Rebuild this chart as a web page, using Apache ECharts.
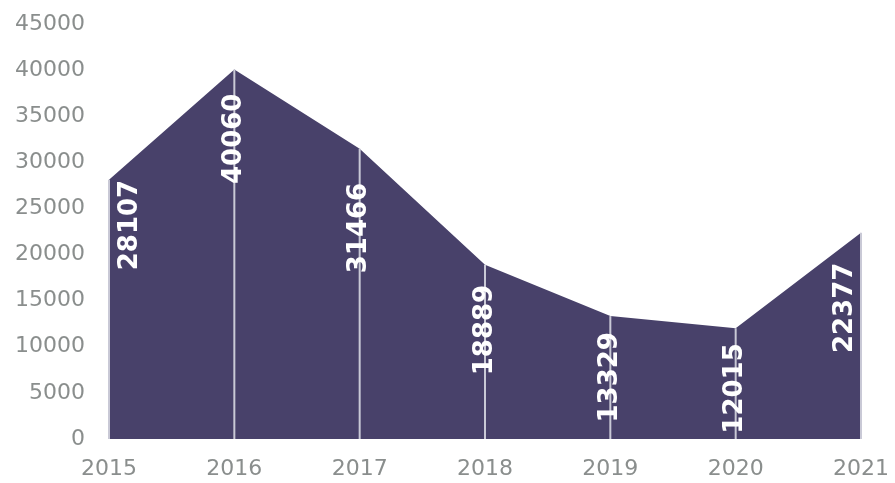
<!DOCTYPE html>
<html><head><meta charset="utf-8">
<script src="https://cdn.jsdelivr.net/npm/echarts@6/dist/echarts.min.js"></script>
<style>html,body{margin:0;padding:0;background:#fff}#c{width:895px;height:483px}</style>
</head><body><div id="c"></div>
<script>
var years = ['2015','2016','2017','2018','2019','2020','2021'];
var values = [28107, 40060, 31466, 18889, 13329, 12015, 22377];
var yTicks = {min: 0, max: 45000, interval: 5000};

// label tweaks (style only)
var labelDistance = [0, 24, 34, 20, 16, 15, 30];
var labelShiftX = [21, 0, 0, 0, 0, 0, -16];

var chart = echarts.init(document.getElementById('c'), null, {renderer: 'canvas'});
var barItems = values.map(function (v, i) {
  return {value: v, label: {distance: labelDistance[i], offset: [0, labelShiftX[i]]}};
});
chart.setOption({
  animation: false,
  grid: {left: 109, right: 34, top: 24, bottom: 44},
  xAxis: {
    type: 'category', data: years, boundaryGap: false,
    axisLine: {show: false}, axisTick: {show: false},
    axisLabel: {color: '#8a8e8d', fontFamily: 'DejaVu Sans', fontSize: 22, margin: 19},
    splitLine: {show: false}
  },
  yAxis: {
    type: 'value', min: yTicks.min, max: yTicks.max, interval: yTicks.interval,
    axisLine: {show: false}, axisTick: {show: false},
    axisLabel: {color: '#8a8e8d', fontFamily: 'DejaVu Sans', fontSize: 22, margin: 24,
      formatter: function (v) { return String(v); }},
    splitLine: {show: false}
  },
  series: [{
    type: 'line', data: values, symbol: 'none',
    lineStyle: {width: 0},
    areaStyle: {color: '#48416a', opacity: 1},
    z: 2
  }, {
    type: 'bar', data: barItems, barWidth: 2,
    itemStyle: {color: '#c9c9d6'}, z: 3, silent: true,
    label: {
      show: true, position: 'insideTop', rotate: 90,
      align: 'right', verticalAlign: 'middle',
      color: '#ffffff', fontFamily: 'DejaVu Sans', fontWeight: 'bold', fontSize: 26
    }
  }]
});
</script></body></html>
